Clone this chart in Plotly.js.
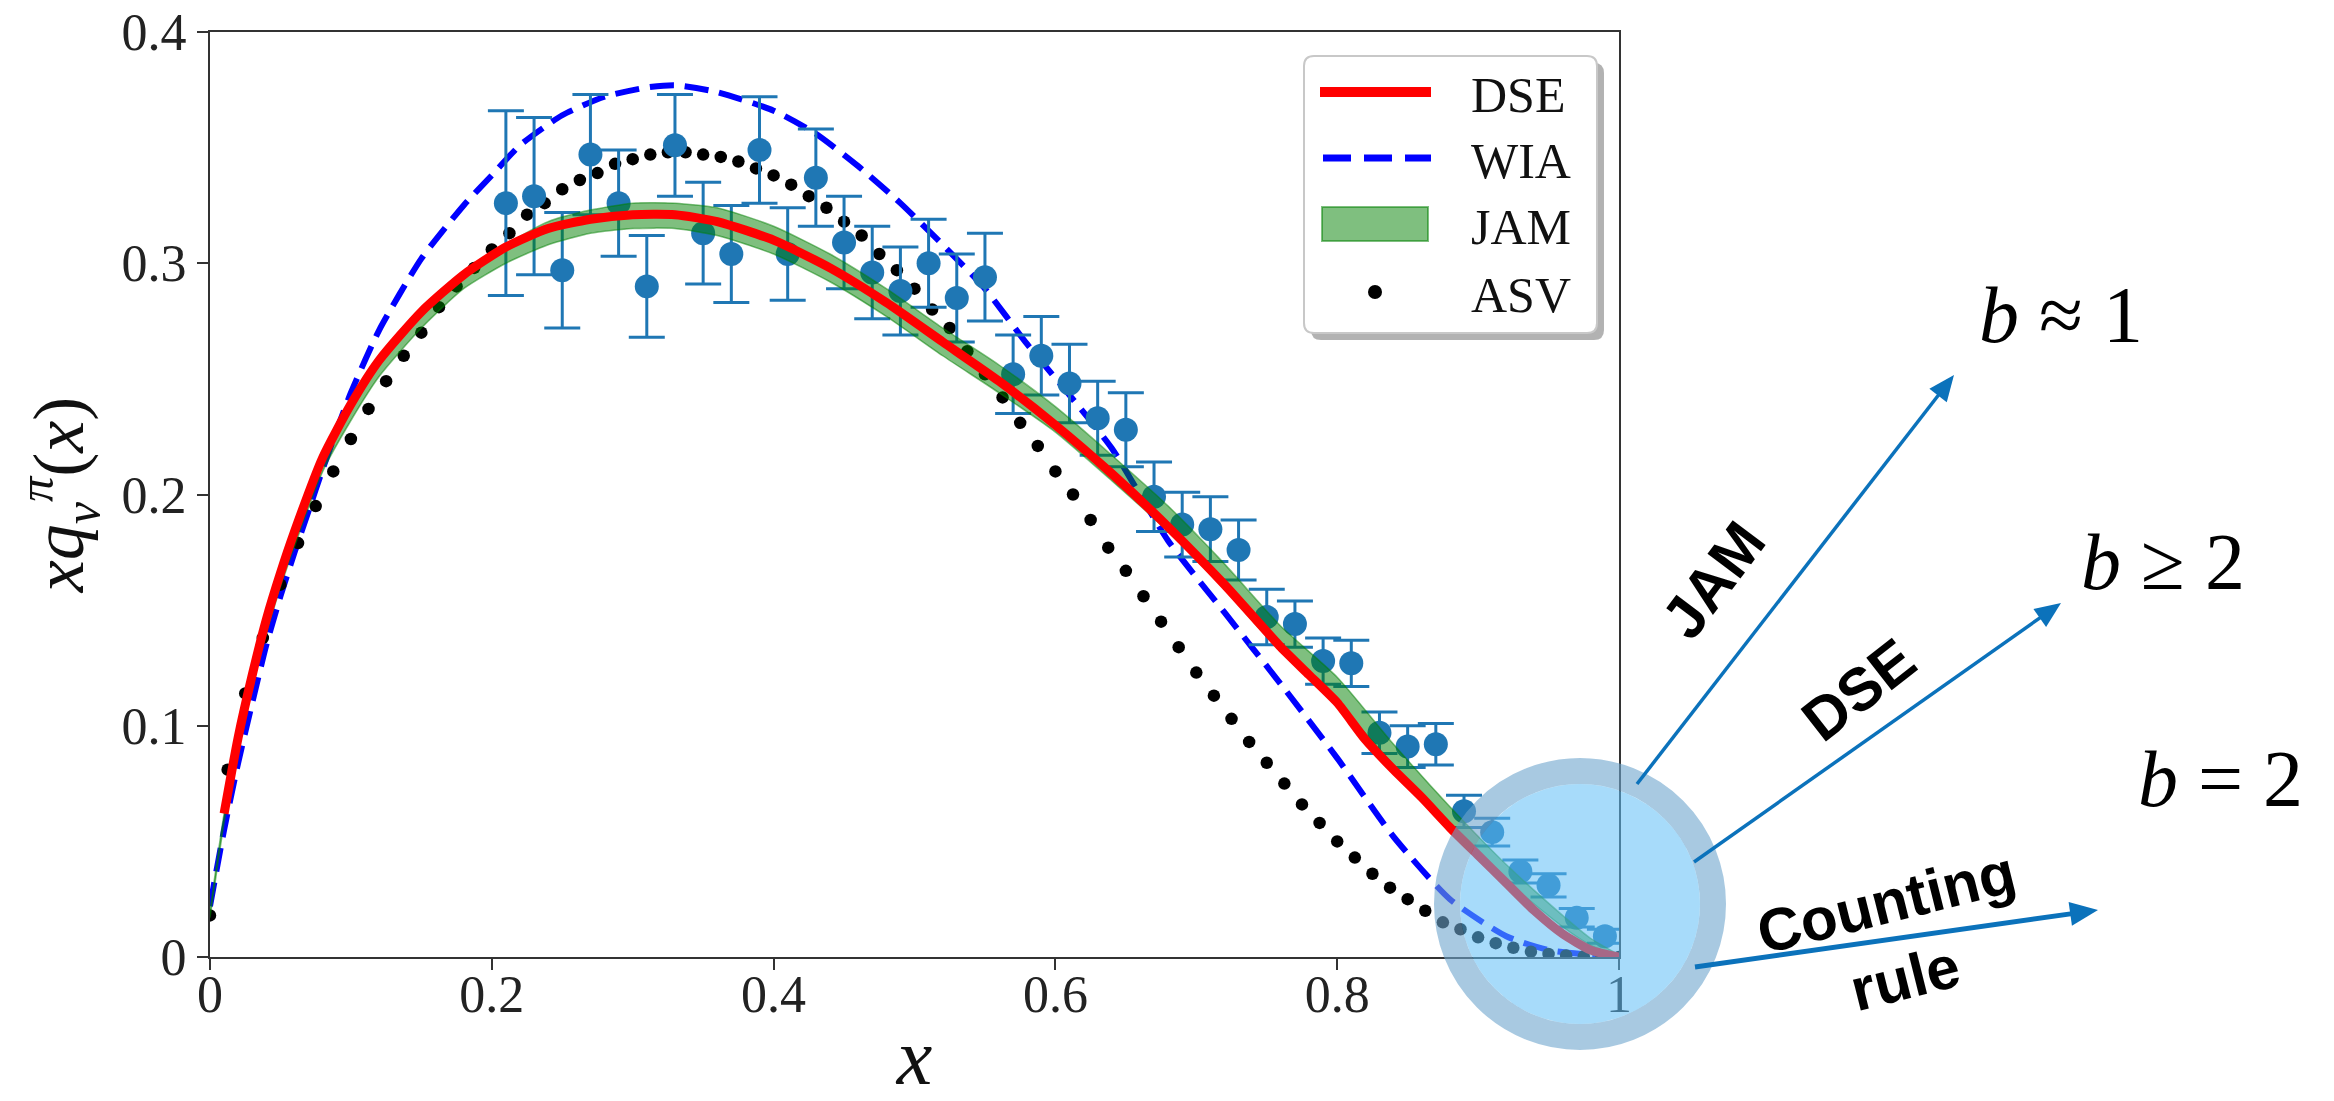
<!DOCTYPE html>
<html>
<head>
<meta charset="utf-8">
<script src="https://cdn.plot.ly/plotly-3.0.1.min.js"></script>
<style>
html,body{margin:0;padding:0;background:#fff;}
#chart{width:2334px;height:1101px;}
</style>
</head>
<body>
<div id="chart"></div>
<script>
// ---------------- data ----------------
const dataX = [0.21,0.23,0.25,0.27,0.29,0.31,0.33,0.35,0.37,0.39,0.41,0.43,0.45,0.47,0.49,0.51,0.53,0.55,0.57,0.59,
               0.61,0.63,0.65,0.67,0.69,0.71,0.73,0.75,0.77,0.79,0.81,0.83,0.85,0.87,0.89,0.91,0.93,0.95,0.97,0.99];
const dataY = [0.326,0.329,0.297,0.347,0.326,0.290,0.351,0.313,0.304,0.349,0.304,0.337,0.309,0.296,0.288,0.300,0.285,0.294,0.252,0.260,
               0.248,0.233,0.228,0.199,0.187,0.185,0.176,0.147,0.144,0.128,0.127,0.097,0.091,0.092,0.063,0.054,0.037,0.031,0.017,0.009];
const dataErr = [0.040,0.034,0.025,0.026,0.023,0.022,0.022,0.022,0.021,0.023,0.020,0.021,0.020,0.020,0.019,0.019,0.019,0.019,0.017,0.017,
                 0.017,0.016,0.016,0.015,0.014,0.014,0.013,0.012,0.010,0.010,0.010,0.009,0.009,0.009,0.007,0.006,0.005,0.005,0.004,0.003];

const dseX = [0.01,0.02,0.03,0.04,0.05,0.06,0.08,0.10,0.12,0.15,0.18,0.21,0.24,0.27,0.30,0.33,0.36,0.40,0.44,0.48,
              0.52,0.56,0.60,0.64,0.68,0.72,0.76,0.78,0.80,0.82,0.84,0.86,0.88,0.90,0.92,0.94,0.96,0.98,1.00];
const dseY = [0.062,0.095,0.122,0.146,0.166,0.184,0.216,0.239,0.258,0.279,0.295,0.307,0.315,0.319,0.321,0.321,0.318,0.310,0.298,0.283,
              0.266,0.249,0.230,0.209,0.186,0.161,0.134,0.122,0.110,0.094,0.081,0.069,0.056,0.044,0.032,0.020,0.010,0.003,0.000];

const wiaX = [0,0.01,0.02,0.03,0.04,0.05,0.06,0.07,0.08,0.09,0.10,0.12,0.15,0.18,0.20,0.22,0.25,0.28,0.31,0.33,0.36,
              0.40,0.43,0.46,0.49,0.52,0.55,0.58,0.61,0.64,0.68,0.72,0.76,0.80,0.84,0.88,0.92,0.95,1.00];
const wiaY = [0.022,0.055,0.084,0.110,0.135,0.156,0.175,0.193,0.211,0.228,0.244,0.271,0.302,0.325,0.338,0.351,0.364,0.372,0.376,0.377,0.374,
              0.366,0.356,0.342,0.326,0.308,0.289,0.265,0.243,0.220,0.180,0.149,0.118,0.086,0.052,0.025,0.009,0.003,0.000];

const jamX = [0,0.01,0.02,0.03,0.05,0.08,0.10,0.12,0.15,0.18,0.21,0.24,0.27,0.30,0.33,0.36,0.40,0.44,0.48,0.52,
              0.56,0.60,0.64,0.68,0.72,0.76,0.80,0.84,0.88,0.92,0.96,0.98,1.00];
const jamLow  = [0.017,0.058,0.090,0.118,0.160,0.210,0.232,0.251,0.272,0.289,0.300,0.308,0.313,0.315,0.315,0.312,0.304,0.292,0.277,0.260,
                 0.244,0.227,0.206,0.184,0.159,0.132,0.110,0.083,0.057,0.033,0.013,0.005,0.000];
const jamHigh = [0.020,0.062,0.094,0.122,0.165,0.216,0.239,0.258,0.279,0.296,0.308,0.318,0.323,0.326,0.326,0.324,0.316,0.304,0.289,0.272,
                 0.256,0.238,0.217,0.195,0.170,0.143,0.121,0.092,0.065,0.040,0.018,0.008,0.001];

const asvX = [0,0.0125,0.025,0.0375,0.05,0.0625,0.075,0.0875,0.1,0.1125,0.125,0.1375,0.15,0.1625,0.175,0.1875,0.2,0.2125,0.225,0.2375,
              0.25,0.2625,0.275,0.2875,0.3,0.3125,0.325,0.3375,0.35,0.3625,0.375,0.3875,0.4,0.4125,0.425,0.4375,0.45,0.4625,0.475,0.4875,
              0.5,0.5125,0.525,0.5375,0.55,0.5625,0.575,0.5875,0.6,0.6125,0.625,0.6375,0.65,0.6625,0.675,0.6875,0.7,0.7125,0.725,0.7375,
              0.75,0.7625,0.775,0.7875,0.8,0.8125,0.825,0.8375,0.85,0.8625,0.875,0.8875,0.9,0.9125,0.925,0.9375,0.95,0.9625,0.975,0.9875,1.0];
const asvY = [0.018,0.081,0.114,0.138,0.161,0.179,0.195,0.210,0.224,0.237,0.249,0.260,0.270,0.281,0.290,0.298,0.306,0.313,0.321,0.326,
              0.332,0.336,0.339,0.343,0.345,0.347,0.348,0.348,0.347,0.346,0.344,0.341,0.338,0.334,0.329,0.324,0.318,0.312,0.304,0.297,
              0.289,0.280,0.272,0.262,0.252,0.242,0.231,0.221,0.210,0.200,0.189,0.177,0.167,0.156,0.145,0.134,0.123,0.113,0.103,0.093,
              0.084,0.075,0.066,0.058,0.050,0.043,0.036,0.030,0.025,0.020,0.015,0.012,0.0085,0.006,0.004,0.0023,0.0013,0.0007,0.0003,0.0001,0.0];

const xTickVals = [0,0.2,0.4,0.6,0.8,1];
const xTickText = ['0','0.2','0.4','0.6','0.8','1'];
const yTickVals = [0,0.1,0.2,0.3,0.4];
const yTickText = ['0','0.1','0.2','0.3','0.4'];
const seriesNames = ['DSE','WIA','JAM','ASV'];

// ---------------- styling ----------------
const W = 2334, H = 1101;
const M = {l:210, r:715, t:32, b:144};
const PW = W - M.l - M.r, PH = H - M.t - M.b;
const PX = v => (v - M.l) / PW;          // page px -> paper x
const PY = v => (H - M.b - v) / PH;      // page px -> paper y

const SERIF = 'Liberation Serif, Times New Roman, serif';
const SANS = 'Liberation Sans, Arial, Helvetica, sans-serif';
const RED = '#ff0000', BLUE = '#0000ff', DOTC = '#1f77b4', GREEN = 'rgba(0,128,0,0.5)';
const ARROW = '#0b72bb';

const traces = [
  {x: wiaX, y: wiaY, name: seriesNames[1], type: 'scatter', mode: 'lines',
   line: {color: BLUE, width: 6, dash: '24px,11px', shape: 'spline', smoothing: 0.6}, hoverinfo: 'skip'},
  {x: asvX, y: asvY, name: seriesNames[3], type: 'scatter', mode: 'markers',
   marker: {color: '#000', size: 12.5}, hoverinfo: 'skip'},
  {x: dataX, y: dataY, name: 'data', type: 'scatter', mode: 'markers',
   marker: {color: DOTC, size: 24},
   error_y: {type: 'data', array: dataErr, visible: true, color: DOTC, thickness: 3, width: 18},
   hoverinfo: 'skip'},
  {x: jamX, y: jamLow, name: seriesNames[2] + ' low', type: 'scatter', mode: 'lines',
   line: {color: GREEN, width: 1.5, shape: 'spline', smoothing: 0.6}, hoverinfo: 'skip'},
  {x: jamX, y: jamHigh, name: seriesNames[2], type: 'scatter', mode: 'lines', fill: 'tonexty', fillcolor: GREEN,
   line: {color: GREEN, width: 1.5, shape: 'spline', smoothing: 0.6}, hoverinfo: 'skip'},
  {x: dseX, y: dseY, name: seriesNames[0], type: 'scatter', mode: 'lines',
   line: {color: RED, width: 9, shape: 'spline', smoothing: 0.6}, hoverinfo: 'skip'}
];

function rr(x0, y0, x1, y1, r) {
  const P = (x, y) => PX(x).toFixed(5) + ',' + PY(y).toFixed(5);
  return 'M' + P(x0 + r, y0) + ' L' + P(x1 - r, y0) + ' Q' + P(x1, y0) + ' ' + P(x1, y0 + r) +
         ' L' + P(x1, y1 - r) + ' Q' + P(x1, y1) + ' ' + P(x1 - r, y1) +
         ' L' + P(x0 + r, y1) + ' Q' + P(x0, y1) + ' ' + P(x0, y1 - r) +
         ' L' + P(x0, y0 + r) + ' Q' + P(x0, y0) + ' ' + P(x0 + r, y0) + ' Z';
}

// arrow drawn as a line shape plus a filled triangular head (page px in, paper coords out)
function arrowShapes(tipX, tipY, tailX, tailY, w, headLen, headW) {
  const dx = tipX - tailX, dy = tipY - tailY, L = Math.hypot(dx, dy);
  const ux = dx / L, uy = dy / L, px = -uy, py = ux;
  const bx = tipX - ux * headLen, by = tipY - uy * headLen;
  const P = (x, y) => PX(x).toFixed(5) + ',' + PY(y).toFixed(5);
  return [
    {type: 'line', xref: 'paper', yref: 'paper', layer: 'above',
     x0: PX(tailX), y0: PY(tailY), x1: PX(bx + ux * 2), y1: PY(by + uy * 2), line: {color: ARROW, width: w}},
    {type: 'path', xref: 'paper', yref: 'paper', layer: 'above',
     path: 'M' + P(tipX, tipY) + ' L' + P(bx + px * headW / 2, by + py * headW / 2) + ' L' + P(bx - px * headW / 2, by - py * headW / 2) + ' Z',
     fillcolor: ARROW, line: {width: 0}}
  ];
}

// legend box geometry (page px)
const LG = {x0: 1304, y0: 56, x1: 1597, y1: 333, sx0: 1320, sx1: 1431, tx: 1469, rows: [92, 158, 224, 292]};
const CIRC = {cx: 1580, cy: 904, rOut: 146, ring: 26};

const shapes = [
  // legend shadow + box
  {type: 'path', xref: 'paper', yref: 'paper', layer: 'above', path: rr(LG.x0 + 7, LG.y0 + 7, LG.x1 + 7, LG.y1 + 7, 10),
   fillcolor: 'rgba(0,0,0,0.30)', line: {width: 0}},
  {type: 'path', xref: 'paper', yref: 'paper', layer: 'above', path: rr(LG.x0, LG.y0, LG.x1, LG.y1, 10),
   fillcolor: '#ffffff', line: {color: '#c8c8c8', width: 2}},
  // legend symbols
  {type: 'line', xref: 'paper', yref: 'paper', layer: 'above', x0: PX(LG.sx0), x1: PX(LG.sx1), y0: PY(LG.rows[0]), y1: PY(LG.rows[0]),
   line: {color: RED, width: 10}},
  {type: 'line', xref: 'paper', yref: 'paper', layer: 'above', x0: PX(LG.sx0 + 3), x1: PX(LG.sx1), y0: PY(LG.rows[1]), y1: PY(LG.rows[1]),
   line: {color: BLUE, width: 7, dash: '28px,13px'}},
  {type: 'rect', xref: 'paper', yref: 'paper', layer: 'above', x0: PX(LG.sx0 + 2), x1: PX(LG.sx1 - 3), y0: PY(LG.rows[2] - 17), y1: PY(LG.rows[2] + 17),
   fillcolor: GREEN, line: {color: GREEN, width: 2}},
  {type: 'circle', xref: 'paper', yref: 'paper', layer: 'above', x0: PX(1368), x1: PX(1382), y0: PY(LG.rows[3] - 7), y1: PY(LG.rows[3] + 7),
   fillcolor: '#000', line: {width: 0}},
  // highlight circle at x -> 1
  {type: 'circle', xref: 'paper', yref: 'paper', layer: 'above',
   x0: PX(CIRC.cx - CIRC.rOut + CIRC.ring / 2), x1: PX(CIRC.cx + CIRC.rOut - CIRC.ring / 2),
   y0: PY(CIRC.cy + CIRC.rOut - CIRC.ring / 2), y1: PY(CIRC.cy - CIRC.rOut + CIRC.ring / 2),
   fillcolor: 'rgba(0,0,0,0)', line: {color: 'rgba(110,165,205,0.6)', width: CIRC.ring}},
  {type: 'circle', xref: 'paper', yref: 'paper', layer: 'above',
   x0: PX(CIRC.cx - CIRC.rOut + CIRC.ring), x1: PX(CIRC.cx + CIRC.rOut - CIRC.ring),
   y0: PY(CIRC.cy + CIRC.rOut - CIRC.ring), y1: PY(CIRC.cy - CIRC.rOut + CIRC.ring),
   fillcolor: 'rgba(95,190,245,0.55)', line: {width: 0}}
].concat(
  arrowShapes(1954, 375, 1637, 784, 3.5, 26, 22),
  arrowShapes(2061, 603, 1694, 862, 3.5, 26, 22),
  arrowShapes(2098, 910, 1695, 967, 5, 28, 24)
);

const legendText = seriesNames.map((n, i) => ({
  xref: 'paper', yref: 'paper', x: PX(LG.tx), y: PY(LG.rows[i] + 3), xanchor: 'left', yanchor: 'middle',
  text: n, showarrow: false, font: {family: SERIF, size: 50, color: '#111'}
}));

function label(text, cx, cy, angle, font) {
  return {xref: 'paper', yref: 'paper', x: PX(cx), y: PY(cy), xanchor: 'center', yanchor: 'middle',
          text: text, textangle: angle, showarrow: false, font: font};
}
const boldFont = {family: SANS, size: 60, color: '#000', weight: 'bold'};
const mathFont = {family: SERIF, size: 80, color: '#000'};

const annotations = legendText.concat([
  label('<b>JAM</b>', 1713, 580, -53, boldFont),
  label('<b>DSE</b>', 1858, 690, -38, boldFont),
  label('<b>Counting<br>rule</b>', 1895, 940, -14, boldFont),
  label('<i>b</i> \u2248 1', 2061, 315, 0, mathFont),
  label('<i>b</i> \u2265 2', 2163, 562, 0, mathFont),
  label('<i>b</i> = 2', 2220, 779, 0, mathFont)
]);

const axisCommon = {
  showline: true, linecolor: '#333', linewidth: 2, mirror: true,
  ticks: 'outside', ticklen: 11, tickwidth: 2, tickcolor: '#333',
  showgrid: false, zeroline: false, automargin: false,
  tickfont: {family: SERIF, size: 52, color: '#222'}
};

const layout = {
  width: W, height: H, margin: M,
  paper_bgcolor: '#fff', plot_bgcolor: '#fff',
  showlegend: false,
  xaxis: Object.assign({}, axisCommon, {
    range: [0, 1], tickmode: 'array', tickvals: xTickVals, ticktext: xTickText,
    ticklabelstandoff: -20,
    title: {text: '<i>x</i>', font: {family: SERIF, size: 80, color: '#111'}, standoff: 56}
  }),
  yaxis: Object.assign({}, axisCommon, {
    range: [0, 0.4], tickmode: 'array', tickvals: yTickVals, ticktext: yTickText,
    title: {text: '<i>xq</i><sub><i>v</i></sub><sup><i>\u03c0</i></sup>(<i>x</i>)', font: {family: SERIF, size: 72, color: '#111'}, standoff: 14}
  }),
  shapes: shapes,
  annotations: annotations
};

Plotly.newPlot('chart', traces, layout, {staticPlot: true, displayModeBar: false});
</script>
</body>
</html>
